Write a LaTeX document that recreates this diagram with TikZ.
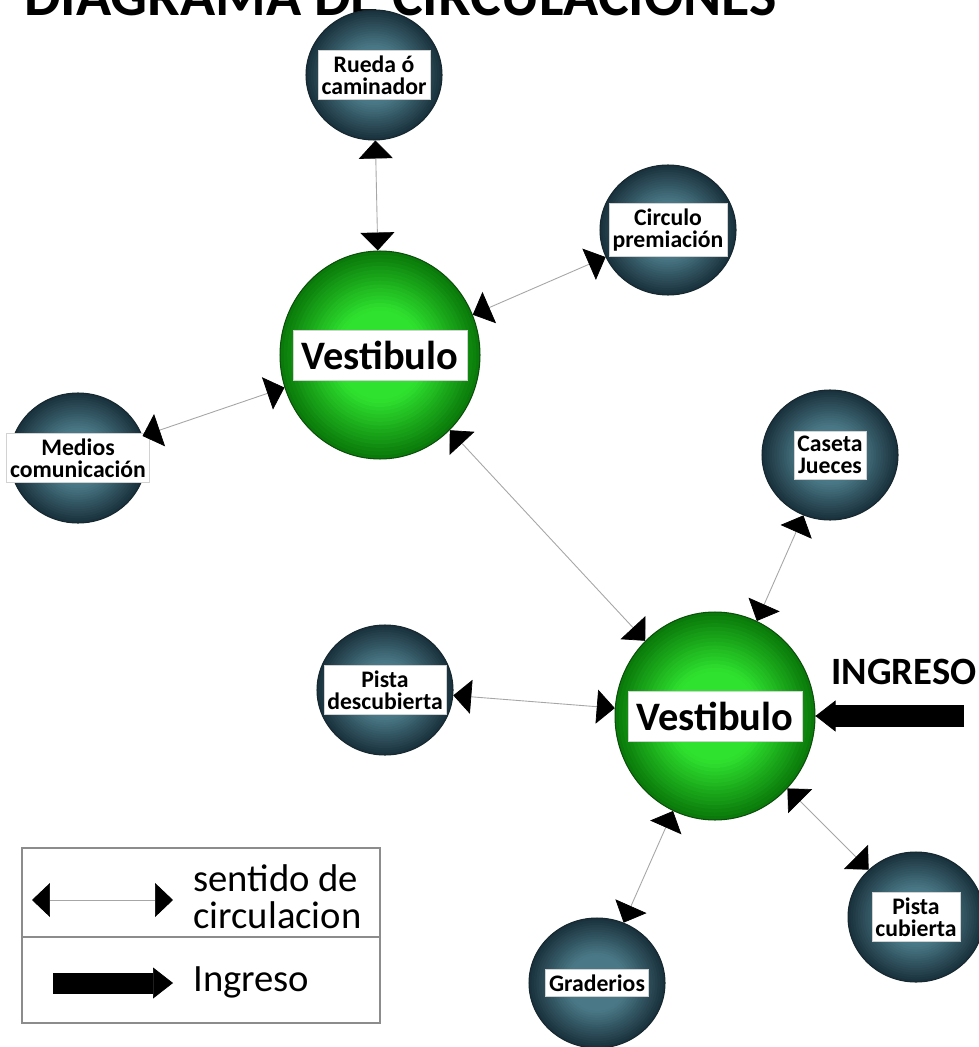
\documentclass[tikz,border=0pt]{standalone}
\usepackage{fontspec}
\setmainfont{Carlito}
\usetikzlibrary{arrows.meta,shapes.geometric}
\definecolor{TealIn}{HTML}{4A7886}
\definecolor{TealOut}{HTML}{1A323D}
\definecolor{GreenIn}{HTML}{2FE22F}
\definecolor{GreenOut}{HTML}{0A7A0A}
\definecolor{BallEdge}{HTML}{16282F}
\definecolor{HubEdge}{HTML}{0A4F0A}
\definecolor{Ink}{HTML}{000000}
\definecolor{Rule}{HTML}{8C8C8C}
\tikzset{
    flowtip/.tip={Triangle[length=0.36cm,width=0.68cm,line width=0.4pt,color=Ink,fill=Ink]},
    entrytip/.tip={Triangle[length=0.4cm,width=0.62cm,line width=0.4pt,color=Ink,fill=Ink]},
    glow/.style n args={4}{path picture={
        \foreach \k in {0,...,16}{
            \pgfmathsetmacro\glowpct{min(100,\k*6.5)}
            \pgfmathsetmacro\glowscale{1-\k/28}
            \fill[#1!\glowpct!#2] (path picture bounding box.center) ellipse [x radius=\glowscale*#3, y radius=\glowscale*#4];
        }}},
    ball/.style={ellipse,draw=BallEdge,line width=0.6pt,fill=TealOut,glow={TealIn}{TealOut}{1.36cm}{1.3cm},minimum width=2.72cm,minimum height=2.6cm,inner sep=0pt},
    hub/.style={ellipse,draw=HubEdge,line width=0.6pt,fill=GreenOut,glow={GreenIn}{GreenOut}{2cm}{2.08cm},minimum width=4cm,minimum height=4.16cm,inner sep=0pt},
    tag/.style={fill=white,draw=gray!35,line width=0.3pt,align=center,text=Ink,font=\bfseries\fontsize{13.5}{12.5}\selectfont,inner xsep=2pt,inner ysep=3pt},
    hubtag/.style={fill=white,draw=gray!35,line width=0.3pt,text=Ink,font=\bfseries\fontsize{23}{25}\selectfont,inner xsep=5pt,inner ysep=6pt},
    flow/.style={draw=gray!70,line width=0.5pt,flowtip-flowtip},
    entry/.style={draw=Ink,line width=0.44cm,-entrytip},
    legtext/.style={anchor=west,align=left,inner sep=0pt,font=\fontsize{22}{21}\selectfont}
}

\begin{document}
\begin{tikzpicture}[x=0.02cm,y=-0.02cm]
    \clip (0,0) rectangle (979,1047);
    \fill[white] (0,0) rectangle (979,1047);
    \node[anchor=base west,inner sep=0pt,font=\bfseries\fontsize{33}{35}\selectfont] (title) at (24,16) {DIAGRAMA DE CIRCULACIONES};

    \node[hub] (vest1) at (380,355) {};
    \node[hubtag] (vest1-t) at (vest1) {Vestibulo};
    \node[hub] (vest2) at (715,716) {};
    \node[hubtag] (vest2-t) at (vest2) {Vestibulo};

    \node[ball] (rueda) at (374,75) {};
    \node[tag] (rueda-t) at (rueda) {Rueda ó\\caminador};
    \node[ball] (circulo) at (668,230) {};
    \node[tag] (circulo-t) at (circulo) {Circulo\\premiación};
    \node[ball] (medios) at (78,458) {};
    \node[tag] (medios-t) at (medios) {Medios\\comunicación};
    \node[ball] (caseta) at (830,455) {};
    \node[tag] (caseta-t) at (caseta) {Caseta\\Jueces};
    \node[ball] (descubierta) at (385,690) {};
    \node[tag] (descubierta-t) at (descubierta) {Pista\\descubierta};
    \node[ball] (graderios) at (597,983) {};
    \node[tag] (graderios-t) at (graderios) {Graderios};
    \node[ball] (cubierta) at (916,917) {};
    \node[tag] (cubierta-t) at (cubierta) {Pista\\cubierta};

    \draw[flow] (rueda) -- (vest1);
    \draw[flow] (circulo) -- (vest1);
    \draw[flow] (medios) -- (vest1);
    \draw[flow] (vest1) -- (vest2);
    \draw[flow] (caseta) -- (vest2);
    \draw[flow] (descubierta) -- (vest2);
    \draw[flow] (graderios) -- (vest2);
    \draw[flow] (cubierta) -- (vest2);

    \node[font=\bfseries\fontsize{22}{24}\selectfont,inner sep=0pt] (ingreso) at (904,672) {INGRESO};
    \coordinate (ingstart) at (964,716);
    \draw[entry] (ingstart) -- (vest2);

    \draw[Rule,line width=0.8pt] (22,848) rectangle (380,1023);
    \draw[Rule,line width=0.6pt] (22,937) -- (380,937);
    \coordinate (legflow-a) at (32,900);
    \coordinate (legflow-b) at (173,900);
    \draw[flow] (legflow-a) -- (legflow-b);
    \node[legtext] (legflow-t) at (193,897) {sentido de\\circulacion};
    \coordinate (legentry-a) at (53,983);
    \coordinate (legentry-b) at (173,983);
    \draw[entry,line width=0.42cm] (legentry-a) -- (legentry-b);
    \node[legtext] (legentry-t) at (193,982) {Ingreso};
\end{tikzpicture}
\end{document}
